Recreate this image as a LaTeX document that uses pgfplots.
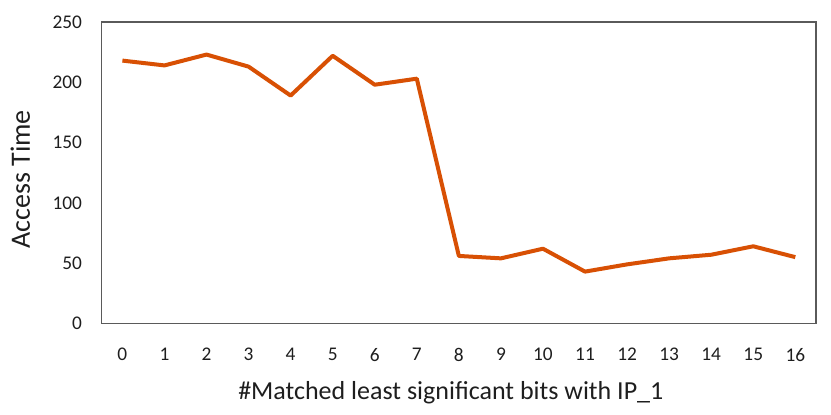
\documentclass[border=0pt]{standalone}
\usepackage{pgfplots}
\pgfplotsset{compat=1.18}
\usepackage{fontspec}
\setmainfont{Carlito}
\definecolor{lineor}{RGB}{216,80,4}
\definecolor{frame}{RGB}{90,90,90}
\definecolor{txt}{RGB}{30,30,30}
\begin{document}
\begin{tikzpicture}
\path[use as bounding box] (-76pt,-68pt) rectangle (547pt,242.5pt);
\begin{axis}[
  at={(0,0)}, anchor=south west,
  scale only axis,
  width=536pt, height=226pt,
  xmin=-0.5, xmax=16.5,
  ymin=0, ymax=250,
  xtick={0,...,16},
  ytick={0,50,...,250},
  major tick length=0pt,
  axis line style={frame, line width=1.3pt},
  tick label style={font=\fontsize{14.5}{16}\selectfont, text=txt},
  /pgf/number format/assume math mode=true,
  xticklabel style={yshift=-15pt},
  yticklabel style={xshift=-11pt},
  xlabel={\#Matched least significant bits with IP\_1},
  ylabel={Access Time},
  label style={text=txt},
  xlabel style={font=\fontsize{19.5}{23}\selectfont, yshift=-8pt, xshift=-6pt},
  ylabel style={font=\fontsize{21}{25}\selectfont, yshift=10pt, xshift=-5pt},
]
\addplot[lineor, line width=3pt, line join=round, mark=none] coordinates {
(0,218) (1,214) (2,223) (3,213) (4,189) (5,222) (6,198) (7,203)
(8,56) (9,54) (10,62) (11,43) (12,49) (13,54) (14,57) (15,64) (16,55)
};
\end{axis}
\end{tikzpicture}
\end{document}
